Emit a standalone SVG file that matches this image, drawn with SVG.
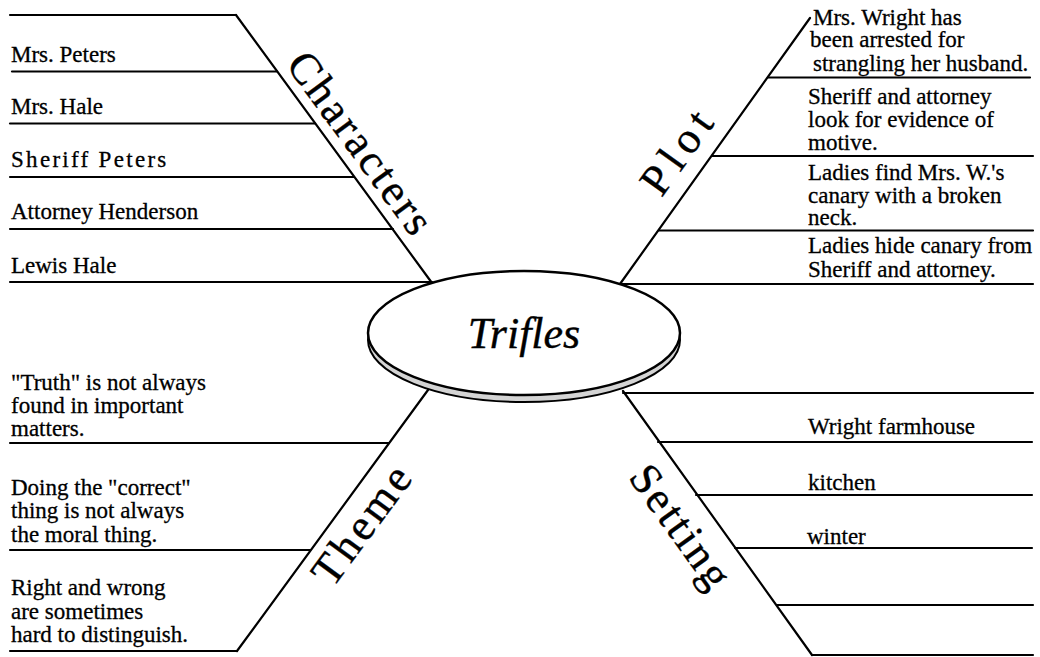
<svg xmlns="http://www.w3.org/2000/svg" width="1040" height="657" viewBox="0 0 1040 657">
<style>
.ln{stroke:#000;stroke-width:2.2;fill:none;stroke-linecap:round}
.t{font-family:"Liberation Serif","Times New Roman",serif;font-size:23px;fill:#000;stroke:#000;stroke-width:0.3}
.big{font-family:"Liberation Serif","Times New Roman",serif;font-size:44px;fill:#000;stroke:#000;stroke-width:0.4}
</style>
<rect width="1040" height="657" fill="#fff"/>
<g id="connectors">
<line class="ln" x1="236" y1="15" x2="432" y2="283"/>
<line class="ln" x1="620" y1="284" x2="810" y2="18"/>
<line class="ln" x1="428" y1="390" x2="237" y2="651"/>
<line class="ln" x1="623" y1="391" x2="812" y2="655"/>
</g>
<g id="center">
<ellipse cx="524" cy="340" rx="156" ry="62" fill="#d4d4d4" stroke="#000" stroke-width="2"/>
<ellipse cx="524" cy="333" rx="156" ry="62" fill="#fff" stroke="#000" stroke-width="2.5"/>
<text x="524" y="348" text-anchor="middle" font-family="Liberation Serif, Times New Roman, serif" font-style="italic" font-size="44" stroke="#000" stroke-width="0.4">Trifles</text>
</g>
<g id="characters">
<line class="ln" x1="10" y1="15" x2="236" y2="15"/>
<line class="ln" x1="12" y1="71.5" x2="277" y2="71.5"/>
<line class="ln" x1="10" y1="123.5" x2="315" y2="123.5"/>
<line class="ln" x1="10" y1="177" x2="354" y2="177"/>
<line class="ln" x1="10" y1="229" x2="393" y2="229"/>
<line class="ln" x1="10" y1="282" x2="432" y2="282"/>
<text class="t" x="11" y="62">Mrs. Peters</text>
<text class="t" x="11" y="114">Mrs. Hale</text>
<text class="t" x="11" y="167" letter-spacing="2.3">Sheriff Peters</text>
<text class="t" x="11" y="219">Attorney Henderson</text>
<text class="t" x="11" y="273">Lewis Hale</text>
<text class="big" letter-spacing="3" transform="translate(284.9,64.7) rotate(53.7)">Characters</text>
</g>
<g id="plot">
<line class="ln" x1="768" y1="77.5" x2="1030" y2="77.5"/>
<line class="ln" x1="712" y1="156" x2="1033" y2="156"/>
<line class="ln" x1="659" y1="230.5" x2="1033" y2="230.5"/>
<line class="ln" x1="620" y1="284" x2="1033" y2="284"/>
<text class="t" x="813" y="25">Mrs. Wright has</text>
<text class="t" x="810" y="47">been arrested for</text>
<text class="t" x="813" y="71">strangling her husband.</text>
<text class="t" x="808" y="104">Sheriff and attorney</text>
<text class="t" x="808" y="127">look for evidence of</text>
<text class="t" x="808" y="150">motive.</text>
<text class="t" x="808" y="180">Ladies find Mrs. W.'s</text>
<text class="t" x="808" y="203">canary with a broken</text>
<text class="t" x="808" y="225">neck.</text>
<text class="t" x="808" y="253">Ladies hide canary from</text>
<text class="t" x="808" y="277">Sheriff and attorney.</text>
<text class="big" letter-spacing="7" transform="translate(661.6,198.3) rotate(-54.4)">Plot</text>
</g>
<g id="theme">
<line class="ln" x1="10" y1="443" x2="389" y2="443"/>
<line class="ln" x1="10" y1="550" x2="310" y2="550"/>
<line class="ln" x1="10" y1="651" x2="237" y2="651"/>
<text class="t" x="11" y="390">"Truth" is not always</text>
<text class="t" x="11" y="413">found in important</text>
<text class="t" x="11" y="436">matters.</text>
<text class="t" x="11" y="495">Doing the "correct"</text>
<text class="t" x="11" y="518">thing is not always</text>
<text class="t" x="11" y="542">the moral thing.</text>
<text class="t" x="11" y="595">Right and wrong</text>
<text class="t" x="11" y="619">are sometimes</text>
<text class="t" x="11" y="642">hard to distinguish.</text>
<text class="big" letter-spacing="3.7" transform="translate(332.4,588.9) rotate(-53.6)">Theme</text>
</g>
<g id="setting">
<line class="ln" x1="623" y1="393" x2="1033" y2="393"/>
<line class="ln" x1="658" y1="442" x2="1032" y2="442"/>
<line class="ln" x1="696" y1="495" x2="1032" y2="495"/>
<line class="ln" x1="735" y1="548" x2="1032" y2="548"/>
<line class="ln" x1="777" y1="605" x2="1033" y2="605"/>
<line class="ln" x1="812" y1="655" x2="1033" y2="655"/>
<text class="t" x="808" y="434">Wright farmhouse</text>
<text class="t" x="808" y="490">kitchen</text>
<text class="t" x="807" y="544">winter</text>
<text class="big" letter-spacing="2.8" transform="translate(627.4,477.4) rotate(54.2)">Setting</text>
</g>
</svg>
